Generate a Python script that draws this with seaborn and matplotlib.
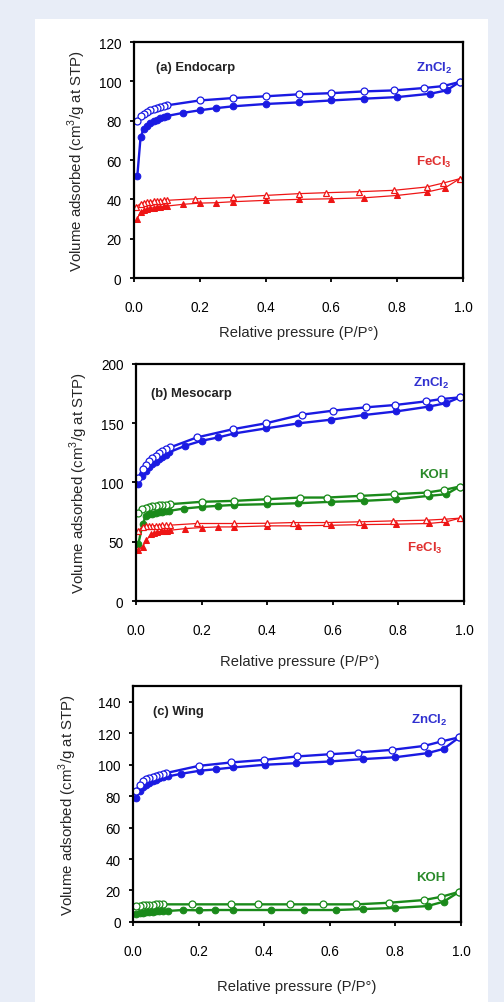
import numpy as np
import pandas as pd
import matplotlib
matplotlib.use('Agg')
import matplotlib.pyplot as plt
from matplotlib.patches import Rectangle
import seaborn as sns

# ---- dados ----
# (a) Endocarp
a_zn_ads_x = [0.01, 0.02, 0.03, 0.04, 0.05, 0.06, 0.07, 0.08, 0.09, 0.10, 0.15, 0.20, 0.25, 0.30, 0.40, 0.50, 0.60, 0.70, 0.80, 0.90, 0.95, 0.99]
a_zn_ads_y = [51.7, 71.7, 76.0, 77.5, 78.8, 79.8, 80.6, 81.3, 81.9, 82.4, 84.0, 85.3, 86.4, 87.3, 88.5, 89.3, 90.3, 91.2, 92.0, 93.7, 95.4, 99.7]
a_zn_des_x = [0.99, 0.94, 0.88, 0.79, 0.70, 0.60, 0.50, 0.40, 0.30, 0.20, 0.10, 0.09, 0.08, 0.07, 0.06, 0.05, 0.04, 0.03, 0.02, 0.01]
a_zn_des_y = [99.7, 97.6, 96.6, 95.4, 94.9, 94.0, 93.4, 92.4, 91.5, 90.3, 87.8, 87.5, 87.1, 86.6, 86.0, 85.3, 84.4, 83.3, 82.2, 79.7]
a_fe_ads_x = [0.01, 0.02, 0.03, 0.04, 0.05, 0.06, 0.07, 0.08, 0.09, 0.10, 0.15, 0.20, 0.25, 0.30, 0.40, 0.50, 0.60, 0.70, 0.80, 0.89, 0.945, 0.99]
a_fe_ads_y = [30.2, 33.6, 34.5, 35.0, 35.4, 35.8, 36.0, 36.2, 36.4, 36.6, 37.5, 38.1, 38.3, 38.8, 39.5, 40.0, 40.3, 40.8, 42.0, 43.7, 45.8, 50.5]
a_fe_des_x = [0.99, 0.94, 0.89, 0.79, 0.685, 0.585, 0.50, 0.40, 0.30, 0.185, 0.10, 0.09, 0.08, 0.07, 0.06, 0.05, 0.04, 0.03, 0.02, 0.005]
a_fe_des_y = [50.5, 48.3, 46.3, 44.6, 43.9, 43.4, 42.9, 42.0, 41.0, 40.3, 39.5, 39.5, 39.4, 39.2, 39.1, 38.9, 38.6, 38.3, 37.8, 36.1]

# (b) Mesocarp
b_zn_ads_x = [0.007, 0.017, 0.03, 0.04, 0.05, 0.06, 0.07, 0.08, 0.09, 0.10, 0.15, 0.20, 0.25, 0.30, 0.395, 0.495, 0.594, 0.694, 0.794, 0.892, 0.946, 0.987]
b_zn_ads_y = [98.6, 105.6, 110.0, 113.0, 115.5, 117.7, 119.6, 121.4, 123.4, 125.4, 131.0, 135.2, 138.0, 141.4, 145.6, 149.9, 153.0, 156.9, 160.0, 164.0, 167.0, 171.8]
b_zn_des_x = [0.987, 0.93, 0.885, 0.79, 0.70, 0.60, 0.505, 0.395, 0.296, 0.185, 0.104, 0.09, 0.08, 0.07, 0.06, 0.05, 0.04, 0.03, 0.02, 0.007]
b_zn_des_y = [171.8, 170.4, 168.5, 165.4, 163.4, 160.6, 157.2, 149.9, 145.0, 138.0, 129.6, 128.0, 126.4, 124.6, 122.6, 120.5, 118.0, 115.0, 111.3, 104.2]
b_koh_ads_x = [0.007, 0.02, 0.03, 0.04, 0.05, 0.06, 0.07, 0.08, 0.09, 0.10, 0.145, 0.20, 0.25, 0.30, 0.40, 0.495, 0.594, 0.694, 0.794, 0.892, 0.946, 0.987]
b_koh_ads_y = [47.9, 64.8, 71.8, 73.0, 73.8, 74.4, 74.9, 75.3, 75.7, 76.0, 78.0, 79.4, 80.3, 81.1, 81.7, 82.5, 83.7, 84.5, 85.9, 88.7, 90.1, 96.6]
b_koh_des_x = [0.987, 0.94, 0.887, 0.786, 0.684, 0.583, 0.50, 0.40, 0.30, 0.20, 0.104, 0.09, 0.08, 0.07, 0.06, 0.05, 0.04, 0.03, 0.017, 0.007]
b_koh_des_y = [96.6, 93.8, 91.5, 90.1, 88.7, 87.3, 87.3, 85.9, 84.5, 83.7, 81.7, 81.3, 80.9, 80.6, 80.2, 79.8, 79.3, 78.6, 77.5, 74.6]
b_fe_ads_x = [0.007, 0.02, 0.032, 0.045, 0.055, 0.065, 0.075, 0.085, 0.095, 0.104, 0.15, 0.20, 0.25, 0.30, 0.40, 0.495, 0.594, 0.694, 0.794, 0.892, 0.946, 0.987]
b_fe_ads_y = [43.1, 45.9, 51.3, 56.3, 57.5, 58.2, 58.7, 59.1, 59.4, 59.7, 61.1, 62.0, 62.5, 62.5, 63.4, 63.4, 63.9, 64.5, 64.8, 65.4, 66.8, 69.9]
b_fe_des_x = [0.987, 0.94, 0.885, 0.784, 0.68, 0.58, 0.48, 0.40, 0.30, 0.185, 0.104, 0.09, 0.08, 0.07, 0.06, 0.05, 0.04, 0.03, 0.02, 0.007]
b_fe_des_y = [69.9, 69.0, 68.2, 67.6, 66.8, 66.2, 66.2, 65.6, 65.4, 65.4, 64.0, 63.9, 63.8, 63.7, 63.6, 63.5, 63.4, 63.2, 62.8, 59.2]

# (c) Wing
c_zn_ads_x = [0.01, 0.02, 0.03, 0.04, 0.05, 0.06, 0.07, 0.08, 0.09, 0.107, 0.147, 0.203, 0.254, 0.305, 0.401, 0.497, 0.60, 0.70, 0.80, 0.898, 0.947, 0.995]
c_zn_ads_y = [78.8, 83.0, 85.5, 87.2, 88.5, 89.6, 90.5, 91.2, 91.9, 92.5, 94.2, 96.1, 97.1, 98.2, 99.9, 100.9, 102.0, 103.5, 104.7, 107.3, 110.0, 117.4]
c_zn_des_x = [0.995, 0.94, 0.888, 0.79, 0.685, 0.60, 0.50, 0.40, 0.30, 0.20, 0.10, 0.09, 0.08, 0.07, 0.06, 0.05, 0.04, 0.03, 0.02, 0.008]
c_zn_des_y = [117.4, 114.7, 111.9, 109.4, 107.7, 106.6, 105.2, 103.0, 101.4, 99.2, 94.6, 94.1, 93.6, 93.0, 92.4, 91.6, 90.6, 89.3, 87.2, 83.0]
c_koh_ads_x = [0.01, 0.02, 0.03, 0.04, 0.05, 0.06, 0.07, 0.08, 0.09, 0.107, 0.152, 0.20, 0.25, 0.305, 0.42, 0.52, 0.62, 0.70, 0.80, 0.898, 0.947, 0.995]
c_koh_ads_y = [4.9, 5.5, 5.9, 6.2, 6.4, 6.6, 6.7, 6.8, 6.9, 7.0, 7.6, 7.4, 7.6, 7.6, 7.6, 7.6, 7.6, 8.2, 8.9, 10.1, 12.9, 19.2]
c_koh_des_x = [0.995, 0.94, 0.886, 0.78, 0.68, 0.58, 0.48, 0.38, 0.30, 0.18, 0.09, 0.08, 0.07, 0.06, 0.05, 0.04, 0.03, 0.02, 0.01]
c_koh_des_y = [19.2, 16.0, 13.9, 12.2, 11.2, 11.2, 11.2, 11.2, 11.2, 11.2, 11.2, 11.1, 11.1, 11.0, 10.9, 10.8, 10.6, 10.4, 10.1]

# ---- estilo ----
sns.set_style('ticks')
plt.rcParams['font.family'] = ['Liberation Sans', 'DejaVu Sans']
plt.rcParams['mathtext.fontset'] = 'custom'
plt.rcParams['mathtext.rm'] = 'Liberation Sans'
plt.rcParams['mathtext.bf'] = 'Liberation Sans:bold'

azul = '#1a1ae2'
vermelho = '#ee1515'
verde = '#1a8a1a'

fig = plt.figure(figsize=(5.04, 10.03), dpi=100)
fig.patch.set_facecolor('#e8edf7')
fundo = Rectangle((35 / 504, 0), 453 / 504, 983 / 1003, transform=fig.transFigure,
                  facecolor='white', edgecolor='none', zorder=-10)
fig.add_artist(fundo)


def isoterma(ax, xa, ya, xd, yd, cor, marcador, lw):
    sns.lineplot(x=xa, y=ya, ax=ax, sort=False, estimator=None, color=cor, lw=lw,
                 marker=marcador, markersize=4.8, markerfacecolor=cor, markeredgecolor=cor)
    sns.lineplot(x=xd, y=yd, ax=ax, sort=False, estimator=None, color=cor, lw=lw,
                 marker=marcador, markersize=5.0, markerfacecolor='white', markeredgecolor=cor,
                 markeredgewidth=0.9)


def formatar(ax, ymax, ytop, ystep, xlab_pad, ylab_pad):
    ax.set_xlim(0, 1.0)
    ax.set_ylim(0, ymax)
    ax.set_xticks(np.arange(0, 1.01, 0.2))
    ax.set_xticklabels(['0.0', '0.2', '0.4', '0.6', '0.8', '1.0'])
    ax.set_yticks(np.arange(0, ytop + 1, ystep))
    for s in ax.spines.values():
        s.set_visible(True)
        s.set_linewidth(1.6)
        s.set_color('black')
    ax.tick_params(axis='both', direction='out', length=3, width=1.3, labelsize=9.8,
                   colors='black')
    ax.tick_params(axis='x', pad=13)
    ax.tick_params(axis='y', pad=6)
    ax.set_xlabel('Relative pressure (P/P°)', fontsize=10.6, labelpad=xlab_pad)
    ax.set_ylabel('Volume adsorbed (cm$^3$/g at STP)', fontsize=10.8, labelpad=ylab_pad)
    ax.set_facecolor('white')
    ax.grid(False)


# (a) Endocarp
ax1 = fig.add_axes([134 / 504, 0.7218, 329 / 504, 0.2353])
isoterma(ax1, a_zn_ads_x, a_zn_ads_y, a_zn_des_x, a_zn_des_y, azul, 'o', 1.7)
isoterma(ax1, a_fe_ads_x, a_fe_ads_y, a_fe_des_x, a_fe_des_y, vermelho, '^', 0.9)
formatar(ax1, 120, 120, 20, 8, 8)
ax1.text(0.067, 0.894, '(a) Endocarp', transform=ax1.transAxes, fontsize=9.4,
         fontweight='bold', va='center', color='#222222')
ax1.text(0.967, 107, r'$\mathbf{ZnCl_2}$', ha='right', va='center', fontsize=9.5, color='#3030d0')
ax1.text(0.967, 59.5, r'$\mathbf{FeCl_3}$', ha='right', va='center', fontsize=9.5, color='#e03030')

# (b) Mesocarp
ax2 = fig.add_axes([136 / 504, 0.3998, 328 / 504, 0.2363])
isoterma(ax2, b_zn_ads_x, b_zn_ads_y, b_zn_des_x, b_zn_des_y, azul, 'o', 1.7)
isoterma(ax2, b_koh_ads_x, b_koh_ads_y, b_koh_des_x, b_koh_des_y, verde, 'o', 1.7)
isoterma(ax2, b_fe_ads_x, b_fe_ads_y, b_fe_des_x, b_fe_des_y, vermelho, '^', 0.9)
formatar(ax2, 200, 200, 50, 12, 8)
ax2.text(0.046, 0.878, '(b) Mesocarp', transform=ax2.transAxes, fontsize=9.4,
         fontweight='bold', va='center', color='#222222')
ax2.text(0.957, 184.8, r'$\mathbf{ZnCl_2}$', ha='right', va='center', fontsize=9.5, color='#3030d0')
ax2.text(0.951, 107, 'KOH', ha='right', va='center', fontsize=9.5, fontweight='bold', color='#2a8a2a')
ax2.text(0.936, 45.6, r'$\mathbf{FeCl_3}$', ha='right', va='center', fontsize=9.5, color='#e03030')

# (c) Wing
ax3 = fig.add_axes([133 / 504, 0.0798, 328 / 504, 0.2353])
isoterma(ax3, c_zn_ads_x, c_zn_ads_y, c_zn_des_x, c_zn_des_y, azul, 'o', 1.7)
isoterma(ax3, c_koh_ads_x, c_koh_ads_y, c_koh_des_x, c_koh_des_y, verde, 'o', 1.7)
formatar(ax3, 150, 140, 20, 15, 14)
ax3.text(0.061, 0.894, '(c) Wing', transform=ax3.transAxes, fontsize=9.4,
         fontweight='bold', va='center', color='#222222')
ax3.text(0.96, 129, r'$\mathbf{ZnCl_2}$', ha='right', va='center', fontsize=9.5, color='#3030d0')
ax3.text(0.951, 28.6, 'KOH', ha='right', va='center', fontsize=9.5, fontweight='bold', color='#2a8a2a')

fig.savefig('out.png', dpi=100, facecolor=fig.get_facecolor())
